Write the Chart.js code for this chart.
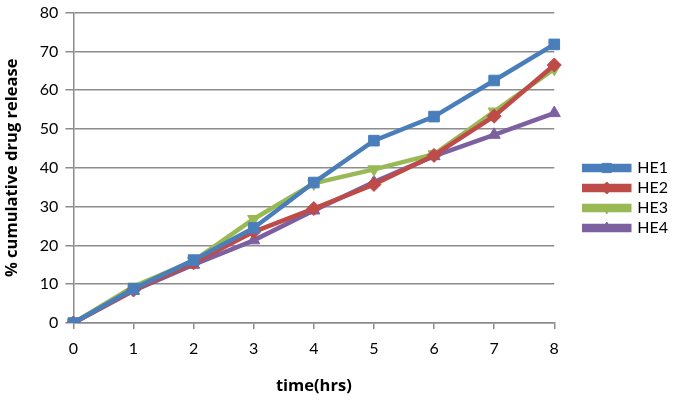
<!DOCTYPE html>
<html lang="en">
<head>
  <meta charset="UTF-8">
  <title>Cumulative drug release</title>
  <script src="https://cdn.jsdelivr.net/npm/chart.js"></script>
  <style>
    html, body { margin: 0; padding: 0; background: #fff; }
    #wrap { width: 680px; height: 406px; }
  </style>
</head>
<body>
  <div id="wrap"><canvas id="releaseChart"></canvas></div>

  <script>
    // data
    const hours = [0, 1, 2, 3, 4, 5, 6, 7, 8];
    const he1 = [0, 8.8, 16.2, 24.5, 36.2, 47, 53.2, 62.5, 71.8];
    const he2 = [0, 8.5, 15.5, 23.5, 29.5, 35.7, 43.2, 53.3, 66.5];
    const he3 = [0, 9.4, 16, 26.8, 36, 39.6, 43.5, 54.5, 65.5];
    const he4 = [0, 8.3, 15, 21.3, 29, 36.3, 43, 48.5, 54.1];
    const yTicks = [0, 10, 20, 30, 40, 50, 60, 70, 80];

    const seriesNames = ['HE1', 'HE2', 'HE3', 'HE4'];
    const colors = ['#4A7EBB', '#BE4B48', '#98B954', '#7D60A0'];
    const markers = ['rect', 'rectRot', 'triangle', 'triangle'];
    const markerRot = [0, 0, 180, 0];
    const markerSize = [7.5, 7, 7, 7];

    const font = "Lato, 'Liberation Sans', sans-serif";
    const titleFont = "'Open Sans', 'Liberation Sans', sans-serif";
    const gridGray = '#8c8c8c';

    const datasets = [he1, he2, he3, he4].map((vals, i) => ({
      label: seriesNames[i],
      data: vals,
      borderColor: colors[i],
      backgroundColor: colors[i],
      borderWidth: 4.5,
      pointStyle: markers[i],
      pointRotation: markerRot[i],
      pointRadius: markerSize[i],
      pointBackgroundColor: colors[i],
      pointBorderColor: colors[i],
      pointBorderWidth: 1,
      tension: 0
    }));

    // nudge the legend block to where the original has it
    const legendShift = { x: 26, y: 0 };

    const legendTweaks = {
      id: 'legendTweaks',
      afterLayout(chart) {
        const lg = chart.legend;
        if (!lg) return;
        lg.left += legendShift.x; lg.right += legendShift.x;
        lg.top += legendShift.y; lg.bottom += legendShift.y;
      },
      // put the marker on top of each legend line, like the spreadsheet legend
      afterDraw(chart) {
        const lg = chart.legend;
        if (!lg || !lg.legendHitBoxes) return;
        const ctx = chart.ctx;
        const bw = lg.options.labels.boxWidth;
        lg.legendHitBoxes.forEach((box, i) => {
          const ds = chart.data.datasets[i];
          ctx.save();
          ctx.fillStyle = ds.backgroundColor;
          ctx.strokeStyle = ds.borderColor;
          ctx.lineWidth = 1;
          Chart.helpers.drawPoint(ctx, {
            pointStyle: ds.pointStyle,
            rotation: ds.pointRotation,
            radius: ds.pointRadius - 1,
            borderWidth: 1
          }, box.left + bw / 2, box.top + box.height / 2);
          ctx.restore();
        });
      }
    };

    new Chart(document.getElementById('releaseChart'), {
      type: 'line',
      data: { labels: hours, datasets: datasets },
      plugins: [legendTweaks],
      options: {
        responsive: true,
        maintainAspectRatio: false,
        animation: false,
        layout: { padding: { top: 0, right: 28, bottom: 10, left: 2 } },
        plugins: {
          legend: {
            position: 'right',
            labels: {
              boxWidth: 45,
              boxHeight: 4,
              padding: 4,
              color: '#000',
              font: { family: font, size: 16 }
            }
          },
          tooltip: { enabled: false }
        },
        scales: {
          x: {
            offset: false,
            grid: {
              drawOnChartArea: false,
              drawTicks: true,
              tickLength: 6,
              color: gridGray,
              lineWidth: 1.5
            },
            border: { color: gridGray, width: 1.5 },
            ticks: { color: '#000', font: { family: font, size: 16 }, padding: 10, maxRotation: 0 },
            title: {
              display: true,
              text: 'time(hrs)',
              color: '#000',
              font: { family: titleFont, size: 16.5, weight: 'bold' },
              padding: { top: 8, bottom: 0 }
            }
          },
          y: {
            min: 0,
            max: 80,
            afterBuildTicks(axis) { axis.ticks = yTicks.map(v => ({ value: v })); },
            grid: {
              color: gridGray,
              lineWidth: 1.5,
              tickLength: 8
            },
            border: { color: gridGray, width: 1.5 },
            ticks: { color: '#000', font: { family: font, size: 16, lineHeight: 0.7 }, padding: 7 },
            title: {
              display: true,
              text: '% cumulative drug release',
              color: '#000',
              font: { family: titleFont, size: 16.5, weight: 'bold' },
              padding: { top: 0, bottom: 11 }
            }
          }
        }
      }
    });
  </script>
</body>
</html>
